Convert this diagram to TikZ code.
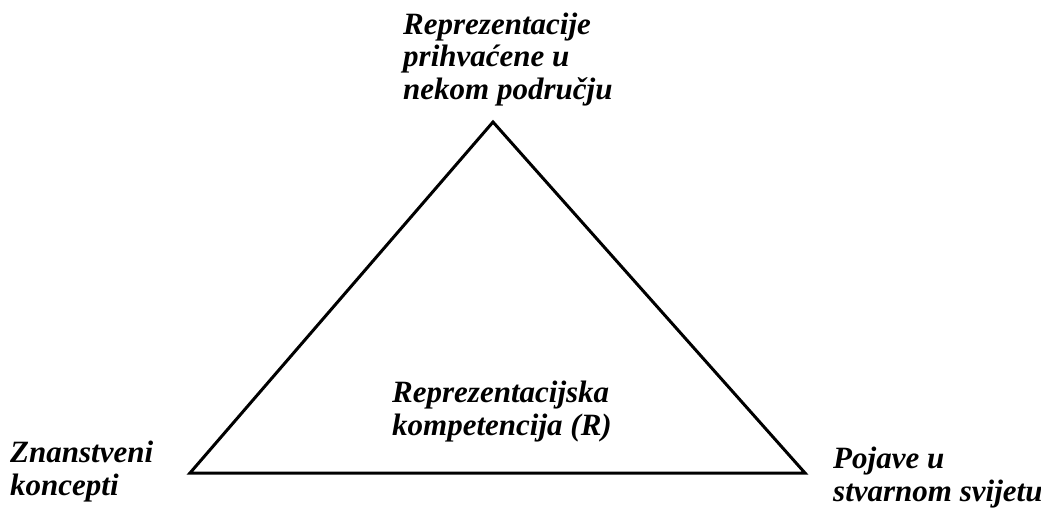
\documentclass[tikz,border=0pt]{standalone}
\usepackage{fontspec}
\setmainfont{Liberation Serif}
\begin{document}
\begin{tikzpicture}[x=1pt,y=-1pt,
  lbl/.style={anchor=base west,align=left,inner sep=0pt,font=\fontsize{31}{33}\selectfont\bfseries\itshape},
  tri/.style={draw=black,line width=3pt,line join=miter}]
\useasboundingbox (0,0) rectangle (1041,508);
\coordinate (A) at (493,122);
\coordinate (B) at (190,473);
\coordinate (C) at (805,473);
\draw[tri] (A) -- (B) -- (C) -- cycle;
\node[lbl] (top) at (403,100) {Reprezentacije\\prihvaćene u\\nekom području};
\node[lbl] (left) at (10,495) {Znanstveni\\koncepti};
\node[lbl] (right) at (833,501) {Pojave u\\stvarnom svijetu};
\node[lbl] (mid) at (392,435) {Reprezentacijska\\kompetencija (R)};
\end{tikzpicture}
\end{document}
